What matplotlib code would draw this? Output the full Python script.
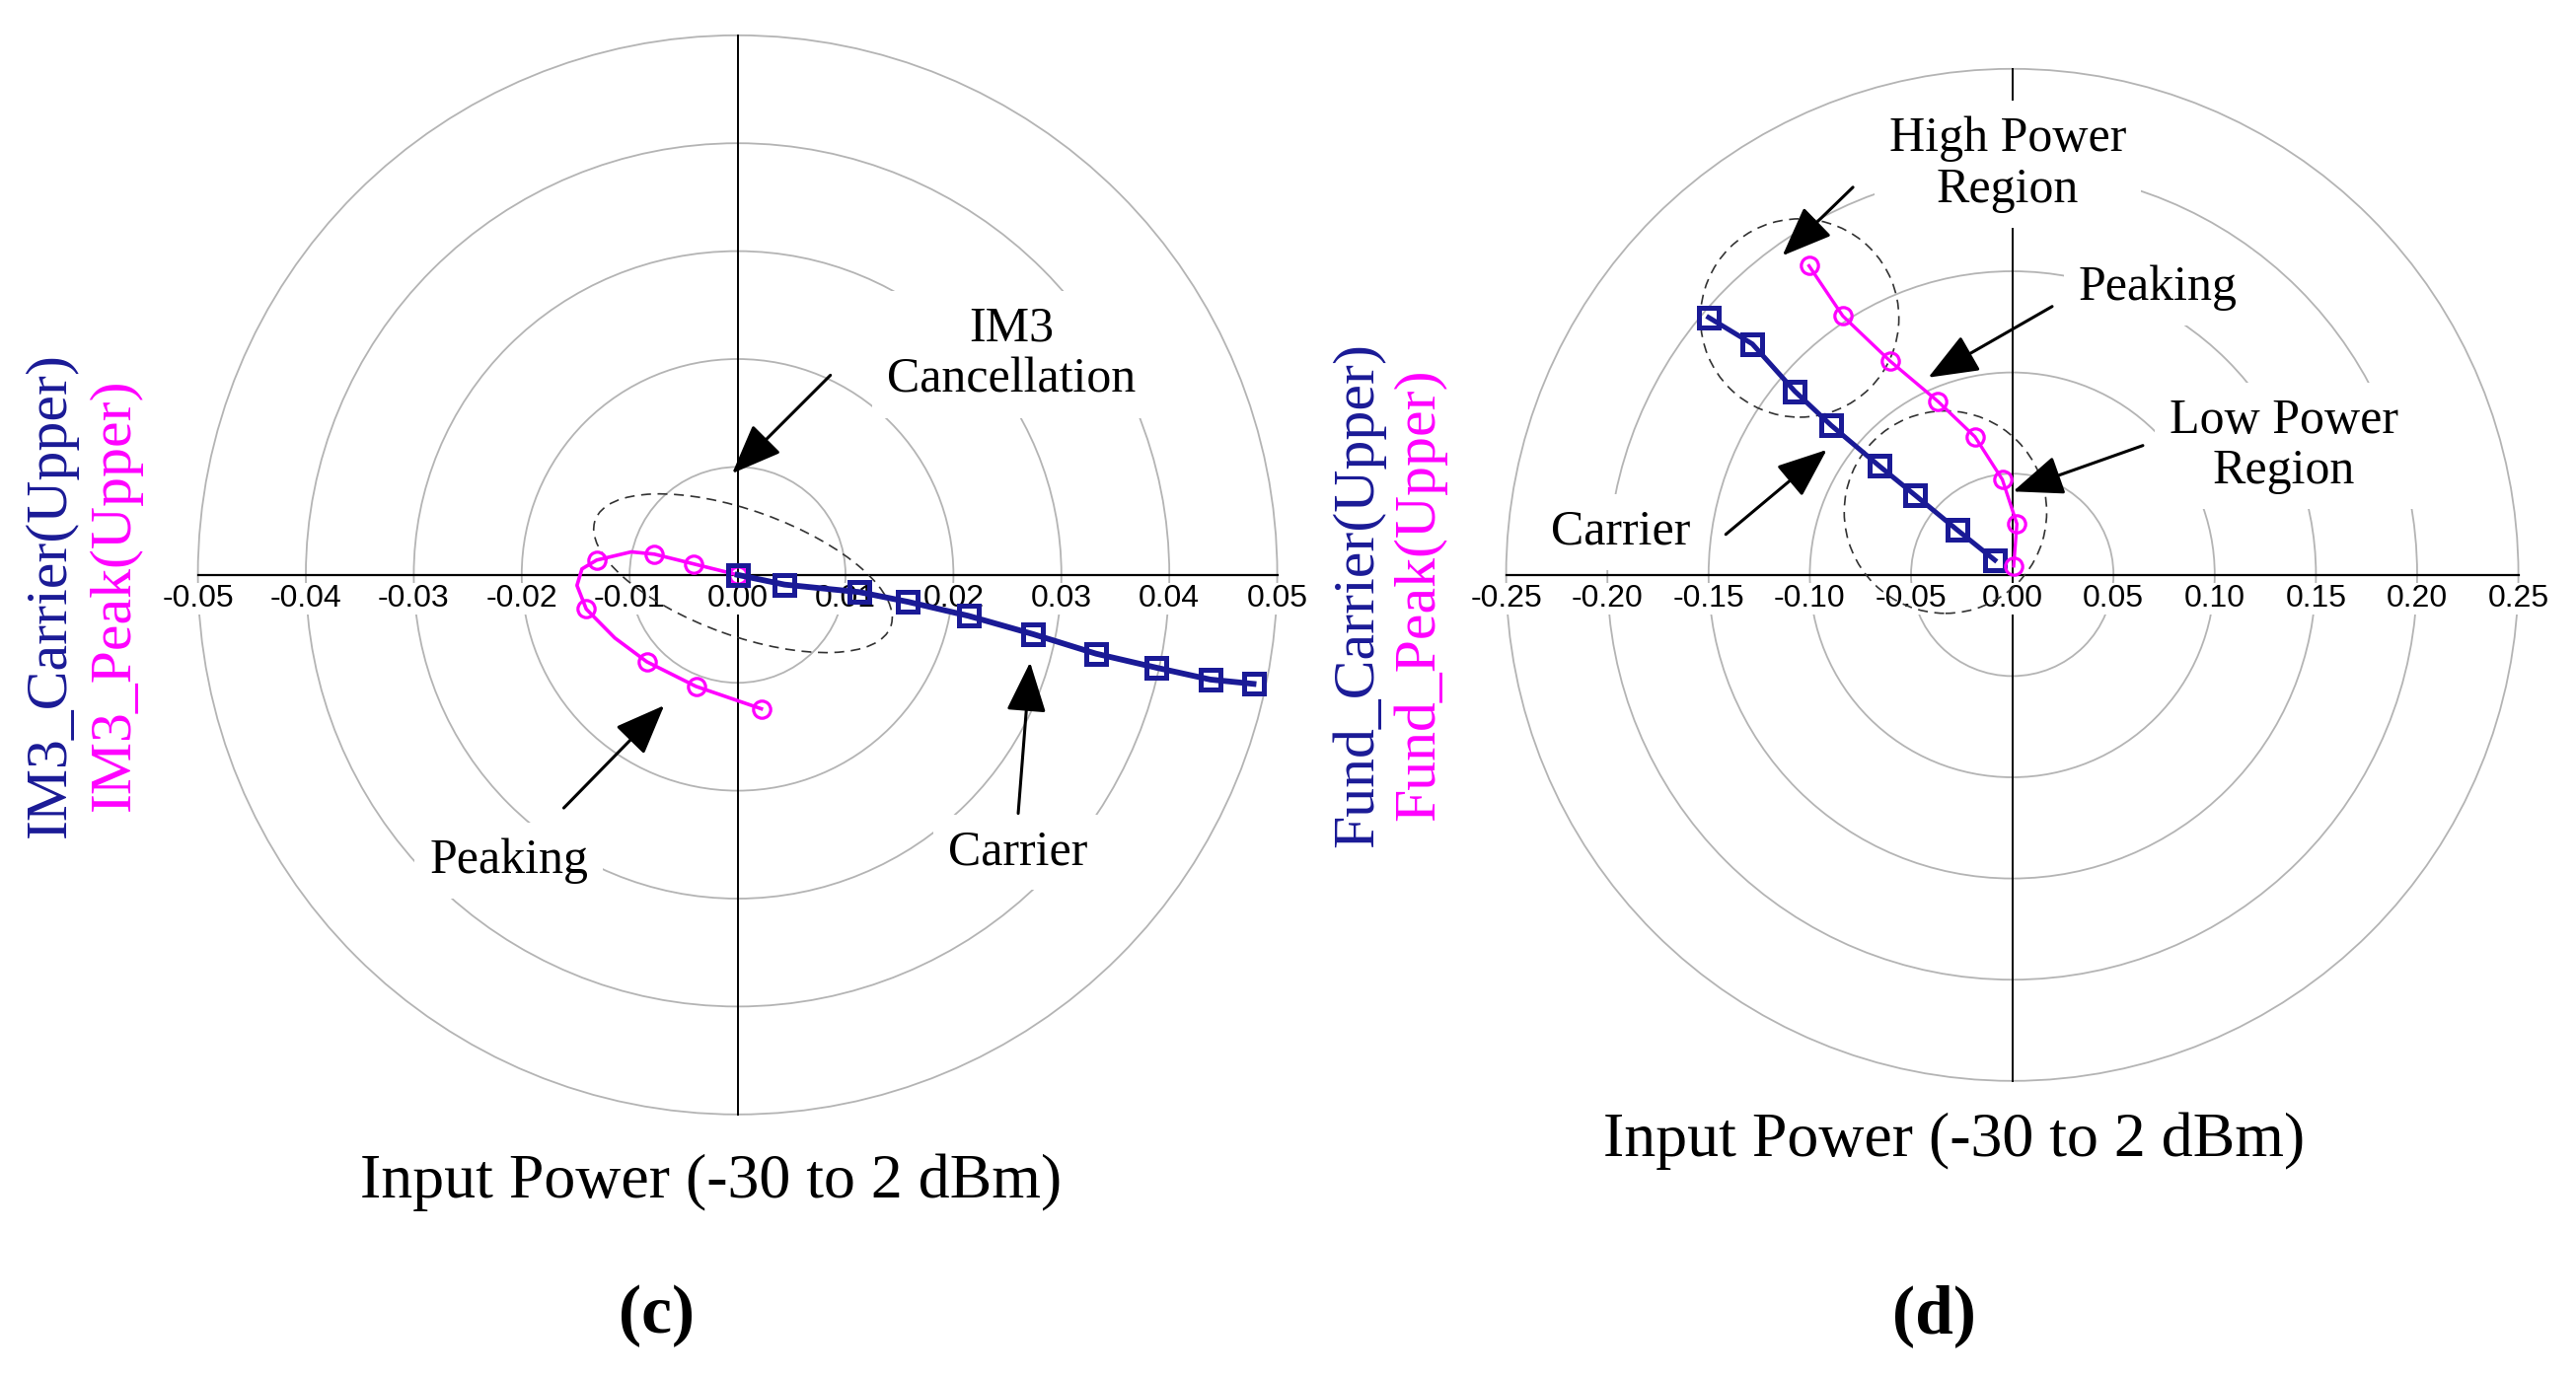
import matplotlib
matplotlib.use("Agg")
import matplotlib.pyplot as plt
from matplotlib.patches import Circle, Ellipse

# ---------------- data ----------------
# Left panel (c): IM3
im3_ticks = [-0.05, -0.04, -0.03, -0.02, -0.01, 0.00, 0.01, 0.02, 0.03, 0.04, 0.05]
im3_grid_radii = [0.01, 0.02, 0.03, 0.04, 0.05]
im3_carrier_x = [0.0, 0.00435, 0.0113, 0.0158, 0.0214, 0.0274, 0.0332, 0.0388, 0.0438, 0.0478]
im3_carrier_y = [0.0, -0.0009, -0.0016, -0.0025, -0.0038, -0.0055, -0.0073, -0.0086, -0.0097, -0.0101]
im3_peak_x = [0.0, -0.00405, -0.00771, -0.00985, -0.01305, -0.01442, -0.01488, -0.01402,
              -0.01137, -0.00841, -0.00384, 0.00220]
im3_peak_y = [0.0, 0.00101, 0.00192, 0.00213, 0.00137, 0.00055, -0.00098, -0.00317,
              -0.00585, -0.00805, -0.01034, -0.01241]
im3_peak_markers = [0, 1, 2, 4, 7, 9, 10, 11]
im3_ellipse = dict(center=(0.0005, 0.00015), width=0.0291, height=0.0116, angle=-19.8)

# Right panel (d): Fund
fund_ticks = [-0.25, -0.20, -0.15, -0.10, -0.05, 0.00, 0.05, 0.10, 0.15, 0.20, 0.25]
fund_grid_radii = [0.05, 0.10, 0.15, 0.20, 0.25]
fund_carrier_x = [-0.0086, -0.0273, -0.0479, -0.0658, -0.0895, -0.1074, -0.1284, -0.1500]
fund_carrier_y = [0.0073, 0.0223, 0.0393, 0.0539, 0.0739, 0.0907, 0.1141, 0.1272]
fund_peak_x = [0.0007, 0.0023, -0.0049, -0.0184, -0.0366, -0.0603, -0.0837, -0.1004]
fund_peak_y = [0.0044, 0.0252, 0.0471, 0.0682, 0.0856, 0.1056, 0.1279, 0.1527]
fund_circles = [((-0.105, 0.1269), 0.049), ((-0.033, 0.031), 0.050)]

# annotations: (text, text_xy, arrow_tail, arrow_tip)
im3_notes = [
    ("IM3\nCancellation", (0.0254, 0.0204), (0.0086, 0.0185), (-0.0005, 0.0094)),
    ("Peaking", (-0.0212, -0.0265), (-0.0161, -0.0216), (-0.0068, -0.0121)),
    ("Carrier", (0.0260, -0.0257), (0.0260, -0.0221), (0.0271, -0.0081)),
]
fund_notes = [
    ("High Power\nRegion", (-0.0022, 0.2029), (-0.0787, 0.1915), (-0.1135, 0.1577)),
    ("Peaking", (0.0720, 0.1420), (0.0197, 0.1326), (-0.0415, 0.0975)),
    ("Low Power\nRegion", (0.1340, 0.0636), (0.0645, 0.0639), (0.0004, 0.0412)),
    ("Carrier", (-0.1932, 0.0211), (-0.1415, 0.0200), (-0.0916, 0.0618)),
]

# ---------------- style ----------------
NAVY = "#1a1a96"
MAG = "#ff00ff"
GRID = "#b4b4b4"
SERIF = ["Liberation Serif", "DejaVu Serif"]
SANS = ["Liberation Sans", "DejaVu Sans"]

W, H = 2611, 1396
fig = plt.figure(figsize=(W / 100, H / 100), dpi=100)
fig.patch.set_facecolor("white")


def make_axes(px_left, px_right, cx, cy_top, scale):
    ax = fig.add_axes([px_left / W, 0, (px_right - px_left) / W, 1])
    ax.set_xlim((px_left - cx) / scale, (px_right - cx) / scale)
    cy = H - cy_top
    ax.set_ylim((0 - cy) / scale, (H - cy) / scale)
    ax.axis("off")
    return ax


def draw_panel(ax, ticks, radii, notes, note_size):
    R = max(radii)
    for r in radii:
        ax.add_patch(Circle((0, 0), r, fill=False, ec=GRID, lw=1.3, zorder=1))
    ax.plot([-R, R], [0, 0], color="black", lw=1.6, zorder=2)
    ax.plot([0, 0], [-R, R], color="black", lw=1.4, zorder=2)
    for t in ticks:
        ax.annotate(f"{t:.2f}", xy=(t, 0), xytext=(0, -17.5), textcoords="offset points",
                    ha="center", va="center", fontsize=23, family=SANS,
                    bbox=dict(fc="white", ec="none", pad=0.5), zorder=3)
    for txt, txy, tail, tip in notes:
        ax.text(txy[0], txy[1], txt, ha="center", va="center", fontsize=note_size,
                family=SERIF, linespacing=1.15,
                bbox=dict(fc="white", ec="none", boxstyle="square,pad=0.3"), zorder=3)
        ax.annotate("", xy=tip, xytext=tail,
                    arrowprops=dict(arrowstyle="-|>,head_length=0.9,head_width=0.36",
                                    mutation_scale=35, lw=2.2, color="black",
                                    shrinkA=0, shrinkB=0), zorder=6)


# Left panel
axL = make_axes(0, 1300, 747.6, 582.8, 10940.0)
draw_panel(axL, im3_ticks, im3_grid_radii, im3_notes, 36)
axL.add_patch(Ellipse(im3_ellipse["center"], im3_ellipse["width"], im3_ellipse["height"],
                      angle=im3_ellipse["angle"], fill=False, ec="#333333", lw=1.2,
                      ls=(0, (6, 4)), zorder=4))
axL.plot(im3_peak_x, im3_peak_y, color=MAG, lw=2.6, marker="o", markersize=12.5,
         mfc="none", mec=MAG, mew=2.3, markevery=im3_peak_markers, zorder=4)
axL.plot(im3_carrier_x, im3_carrier_y, color=NAVY, lw=4.2, marker="s", markersize=14,
         mfc="none", mec=NAVY, mew=3.6, zorder=5)

# Right panel
axR = make_axes(1300, 2611, 2039.6, 582.8, 2052.0)
draw_panel(axR, fund_ticks, fund_grid_radii, fund_notes, 36)
for c, r in fund_circles:
    axR.add_patch(Circle(c, r, fill=False, ec="#333333", lw=1.2, ls=(0, (6, 4)), zorder=4))
axR.plot(fund_carrier_x, fund_carrier_y, color=NAVY, lw=3.6, marker="s", markersize=14,
         mfc="none", mec=NAVY, mew=3.6, zorder=5)
axR.plot(fund_peak_x, fund_peak_y, color=MAG, lw=2.4, marker="o", markersize=12.5,
         mfc="none", mec=MAG, mew=2.3, zorder=5)


def ftext(x, y, s, **kw):
    fig.text(x / W, 1 - y / H, s, **kw)


# axis labels
ftext(52, 603, "IM3_Carrier(Upper)", rotation=90, ha="center", va="center",
      fontsize=43, family=SERIF, color=NAVY)
ftext(117, 603, "IM3_Peak(Upper)", rotation=90, ha="center", va="center",
      fontsize=43, family=SERIF, color=MAG)
ftext(1377, 603, "Fund_Carrier(Upper)", rotation=90, ha="center", va="center",
      fontsize=43, family=SERIF, color=NAVY)
ftext(1439, 603, "Fund_Peak(Upper)", rotation=90, ha="center", va="center",
      fontsize=43, family=SERIF, color=MAG)
ftext(721, 1199, "Input Power (-30 to 2 dBm)", ha="center", va="center",
      fontsize=46, family=SERIF)
ftext(1981, 1157, "Input Power (-30 to 2 dBm)", ha="center", va="center",
      fontsize=46, family=SERIF)
ftext(666, 1334, "(c)", ha="center", va="center", fontsize=50, family=SERIF,
      fontweight="bold")
ftext(1960, 1334, "(d)", ha="center", va="center", fontsize=50, family=SERIF,
      fontweight="bold")

fig.savefig("out.png", dpi=100, facecolor="white")
